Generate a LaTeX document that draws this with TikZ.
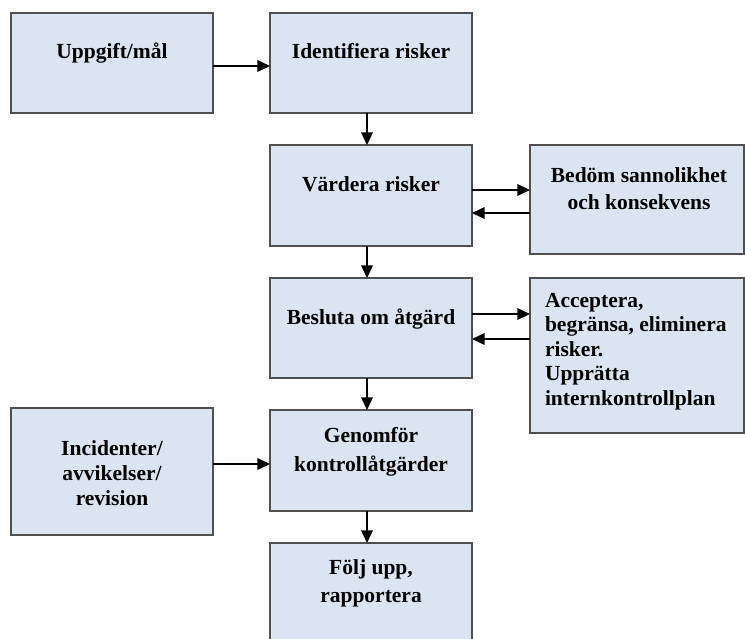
\documentclass[tikz,border=0pt]{standalone}
\usepackage{fontspec}
\setmainfont{Liberation Serif}
\usetikzlibrary{arrows.meta,calc}
\definecolor{boxfill}{HTML}{DBE5F1}
\definecolor{boxline}{HTML}{4F4F4F}
\begin{document}
\begin{tikzpicture}[x=0.5pt,y=-0.5pt,
  box/.style={draw=boxline,fill=boxfill,line width=1pt,inner sep=0pt,outer sep=0pt},
  lbl/.style={font=\bfseries\fontsize{10.75}{13}\selectfont,inner sep=0pt,outer sep=0pt,align=center,anchor=north},
  conn/.style={line width=0.75pt,-{Triangle[length=6.3pt,width=5.8pt]}}]
\path[use as bounding box,clip] (0,0) rectangle (745,638);
% boxes
\node[box,minimum width=101pt,minimum height=50pt] (upp) at (112,63) {};
\node[box,minimum width=101pt,minimum height=50pt] (ide) at (371,63) {};
\node[box,minimum width=101pt,minimum height=50.5pt] (var) at (371,195.5) {};
\node[box,minimum width=101pt,minimum height=50pt] (bes) at (371,328) {};
\node[box,minimum width=101pt,minimum height=50.5pt] (gen) at (371,460.5) {};
\node[box,minimum width=101pt,minimum height=78.5pt] (fol) at (371,621.5) {};
\node[box,minimum width=107pt,minimum height=54.5pt] (bed) at (637,199.5) {};
\node[box,minimum width=107pt,minimum height=77.5pt] (acc) at (637,355.5) {};
\node[box,minimum width=101pt,minimum height=63.5pt] (inc) at (112,471.5) {};
% labels
\node[lbl] (uppt) at (112,43.4) {Uppgift/mål};
\node[lbl] (idet) at (371,43.4) {Identifiera risker};
\node[lbl] (vart) at (371,176.4) {Värdera risker};
\node[lbl] (best) at (371,309.4) {Besluta om åtgärd};
\node[lbl,font=\bfseries\fontsize{10.75}{13.3}\selectfont] (bedt) at (639,167.5) {Bedöm sannolikhet\\och konsekvens};
\node[lbl,align=left,anchor=north west,font=\bfseries\fontsize{10.75}{12.25}\selectfont] (acct) at (545,293) {Acceptera,\\begränsa, eliminera\\risker.\\Upprätta\\internkontrollplan};
\node[lbl,font=\bfseries\fontsize{10.75}{14.2}\selectfont] (gent) at (371,427.5) {Genomför\\kontrollåtgärder};
\node[lbl,font=\bfseries\fontsize{10.75}{12.5}\selectfont] (inct) at (112,441) {Incidenter/\\avvikelser/\\revision};
\node[lbl,font=\bfseries\fontsize{10.75}{13.8}\selectfont] (folt) at (371,560) {Följ upp,\\rapportera};
% connector rows/columns
\coordinate (colx) at (367,0);
\coordinate (r1) at (0,66);
\coordinate (r2) at (0,190);
\coordinate (r3) at (0,213);
\coordinate (r4) at (0,314);
\coordinate (r5) at (0,339);
\coordinate (r6) at (0,464);
% connectors
\draw[conn] (upp.east |- r1) -- (ide.west |- r1);
\draw[conn] (ide.south -| colx) -- (var.north -| colx);
\draw[conn] (var.south -| colx) -- (bes.north -| colx);
\draw[conn] (bes.south -| colx) -- (gen.north -| colx);
\draw[conn] (gen.south -| colx) -- (fol.north -| colx);
\draw[conn] (var.east |- r2) -- (bed.west |- r2);
\draw[conn] (bed.west |- r3) -- (var.east |- r3);
\draw[conn] (bes.east |- r4) -- (acc.west |- r4);
\draw[conn] (acc.west |- r5) -- (bes.east |- r5);
\draw[conn] (inc.east |- r6) -- (gen.west |- r6);
\end{tikzpicture}
\end{document}
